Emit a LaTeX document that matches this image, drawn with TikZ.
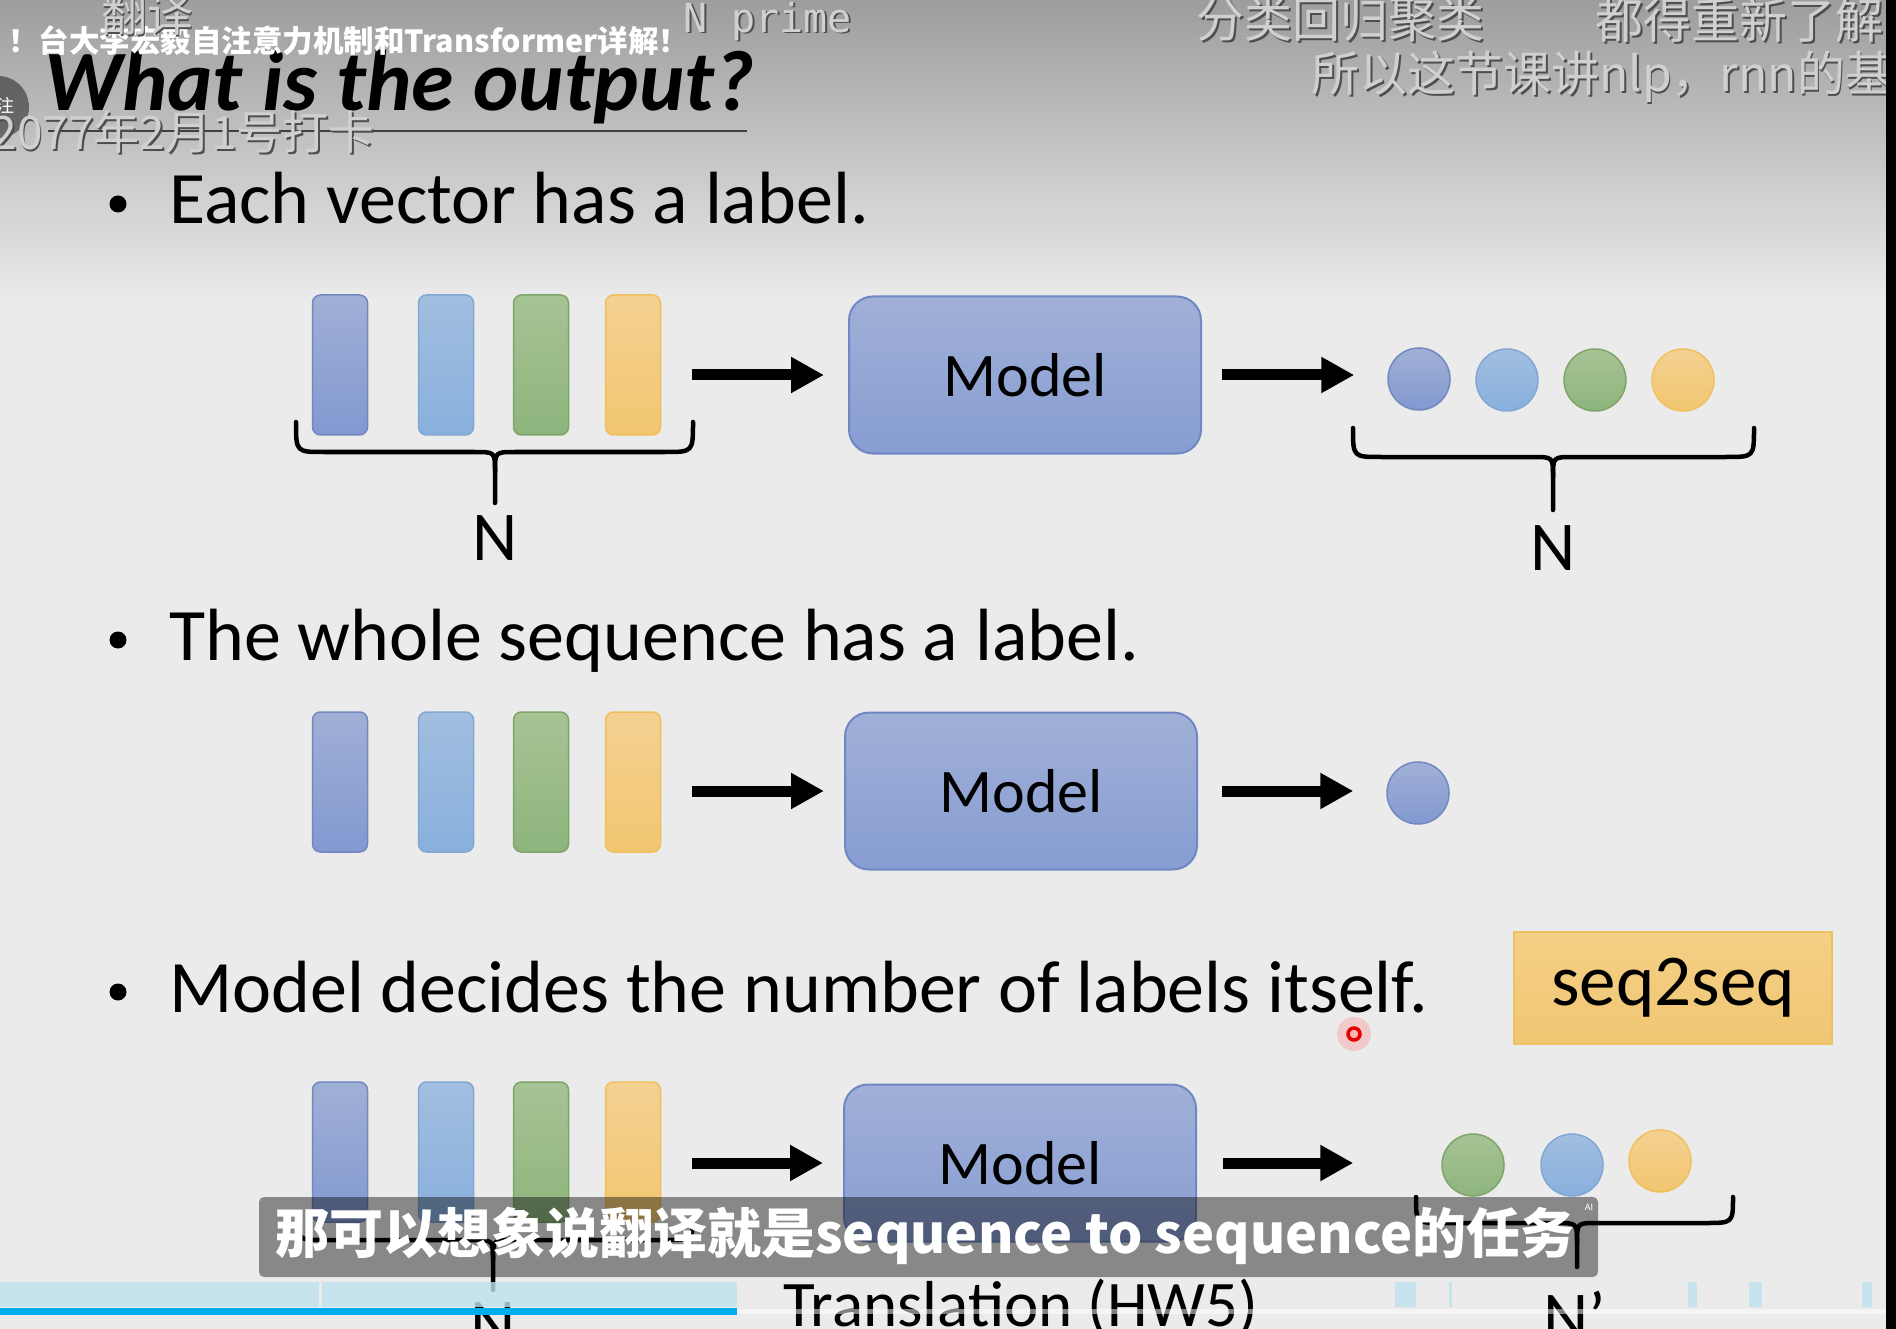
\documentclass[tikz,border=0pt]{standalone}
\usepackage{fontspec}
\setmainfont{Carlito}
\newfontfamily\cjk{Noto Sans CJK SC}
\newfontfamily\monof{DejaVu Sans Mono}
\usetikzlibrary{arrows.meta,calc}
\newcommand\fsz[1]{\fontsize{#1}{#1}\selectfont}
\definecolor{bgc}{HTML}{EBEBEB}
\definecolor{topg}{HTML}{9D9D9D}
\definecolor{cAt}{HTML}{A0B0D6}\definecolor{cAb}{HTML}{8299D0}\definecolor{cAd}{HTML}{7288BE}
\definecolor{cBt}{HTML}{A2BEE0}\definecolor{cBb}{HTML}{88B0DD}\definecolor{cBd}{HTML}{82A7D3}
\definecolor{cCt}{HTML}{A6C394}\definecolor{cCb}{HTML}{8EB57D}\definecolor{cCd}{HTML}{7FA56B}
\definecolor{cDt}{HTML}{F4D192}\definecolor{cDb}{HTML}{F2C670}\definecolor{cDd}{HTML}{EFC05C}
\definecolor{mdt}{HTML}{A0B0D7}\definecolor{mdb}{HTML}{879DD2}\definecolor{mdd}{HTML}{6F88C3}
\definecolor{sqt}{HTML}{F4CF85}\definecolor{sqb}{HTML}{F1C673}\definecolor{sqd}{HTML}{EDC262}
\definecolor{hm}{HTML}{BFE2EE}
\definecolor{prog}{HTML}{00AEEC}
\definecolor{dmo}{HTML}{4E4E4E}
\definecolor{dmf}{HTML}{D0D0D0}
\tikzset{
  bar/.style={rounded corners=8pt, minimum width=55pt, minimum height=140pt, line width=1.5pt, inner sep=0},
  barA/.style={bar, draw=cAd, top color=cAt, bottom color=cAb},
  barB/.style={bar, draw=cBd, top color=cBt, bottom color=cBb},
  barC/.style={bar, draw=cCd, top color=cCt, bottom color=cCb},
  barD/.style={bar, draw=cDd, top color=cDt, bottom color=cDb},
  dot/.style={circle, minimum size=62pt, inner sep=0, line width=1.5pt},
  dotA/.style={dot, draw=cAd, top color=cAt, bottom color=cAb},
  dotB/.style={dot, draw=cBd, top color=cBt, bottom color=cBb},
  dotC/.style={dot, draw=cCd, top color=cCt, bottom color=cCb},
  dotD/.style={dot, draw=cDd, top color=cDt, bottom color=cDb},
  model/.style={rounded corners=24pt, minimum width=352pt, minimum height=157pt, draw=mdd, line width=2pt, top color=mdt, bottom color=mdb, font=\fsz{62}, inner sep=0},
  arr/.style={line width=11pt, -{Triangle[length=33pt,width=34pt]}},
  brc/.style={line width=4.5pt, line cap=round, line join=round},
  lbl/.style={font=\fsz{70}, inner sep=0, anchor=base},
  bul/.style={font=\fsz{74}, anchor=base west, inner sep=0},
  bdot/.style={circle, fill=black, minimum size=17pt, inner sep=0},
  dm/.style={inner sep=0},
}
\newcommand\dmk[5]{%
  \node[dm, anchor=#3, text=dmo] (#1s) at ($(#2)+(1.8,1.8)$) {#4#5};
  \node[dm, anchor=#3, text=dmf] (#1) at (#2) {#4#5};
}
\newcommand\bracedown[6]{%
  \draw[brc] (#1,#4) .. controls (#1,#5) .. (#1+28,#5) -- (#3-20,#5) .. controls (#3,#5) .. (#3,#5+20) -- (#3,#6);
  \draw[brc] (#2,#4) .. controls (#2,#5) .. (#2-28,#5) -- (#3+20,#5) .. controls (#3,#5) .. (#3,#5+20);
}
\begin{document}
\begin{tikzpicture}[x=1pt,y=-1pt]
\useasboundingbox (0,0) rectangle (1896,1329);
\fill[bgc] (0,0) rectangle (1896,1329);
\shade[top color=topg, bottom color=bgc] (0,0) rectangle (1896,300);

% title
\node[anchor=base west, inner sep=0, font=\bfseries\itshape\fsz{86}] (title) at (44,111) {What is the output?};
\draw[line width=2.5pt, black!75] (48,131) -- (747,131);

% bullets
\node[bdot] (d1) at (118,204) {};
\node[bul] (t1) at (169,224) {Each vector has a label.};
\node[bdot] (d2) at (118,640) {};
\node[bul] (t2) at (169,660) {The whole sequence has a label.};
\node[bdot] (d3) at (118,992) {};
\node[bul] (t3) at (169,1012) {Model decides the number of labels itself.};

% row 1
\node[barA] (b11) at (340,365) {};
\node[barB] (b12) at (446,365) {};
\node[barC] (b13) at (541,365) {};
\node[barD] (b14) at (633,365) {};
\node[model] (m1) at (1025,375) {Model};
\node[dotA] (c11) at (1419,379) {};
\node[dotB] (c12) at (1507,380) {};
\node[dotC] (c13) at (1595,380) {};
\node[dotD] (c14) at (1683,380) {};
\draw[arr] (b14.east |- m1.west) ++(31,0) -- ([xshift=-24pt]m1.west);
\draw[arr] ([xshift=20pt]m1.east) -- ([xshift=-33pt]c11.west |- m1.east);
\bracedown{296}{693}{495}{422}{452}{503}
\node[lbl] (n1) at (495,560) {N};
\bracedown{1353}{1754}{1553}{428}{457}{510}
\node[lbl] (n2) at (1553,570) {N};

% row 2
\node[barA] (b21) at (340,782) {};
\node[barB] (b22) at (446,782) {};
\node[barC] (b23) at (541,782) {};
\node[barD] (b24) at (633,782) {};
\node[model] (m2) at (1021,791) {Model};
\node[dotA] (c21) at (1418,793) {};
\draw[arr] (b24.east |- m2.west) ++(31,0) -- ([xshift=-20pt]m2.west);
\draw[arr] ([xshift=24pt]m2.east) -- ([xshift=-33pt]c21.west |- m2.east);

% row 3
\node[font=\fsz{73}, minimum width=318pt, minimum height=112pt, draw=sqd, line width=1.5pt, top color=sqt, bottom color=sqb, inner sep=0] (s2s) at (1673,988) {seq2seq};
\node[barA] (b31) at (340,1152) {};
\node[barB] (b32) at (446,1152) {};
\node[barC] (b33) at (541,1152) {};
\node[barD] (b34) at (633,1152) {};
\node[model] (m3) at (1020,1163) {Model};
\node[dotC] (c31) at (1473,1165) {};
\node[dotB] (c32) at (1572,1165) {};
\node[dotD] (c33) at (1660,1161) {};
\draw[arr] (b34.east |- m3.west) ++(31,0) -- ([xshift=-20pt]m3.west);
\draw[arr] ([xshift=26pt]m3.east) -- ([xshift=-88pt]c31.west |- m3.east);
\bracedown{297}{693}{493}{1212}{1240}{1290}
\node[lbl] (n3) at (493,1347) {N};
\bracedown{1416}{1733}{1577}{1197}{1223}{1267}
\node[lbl] (n4) at (1575,1340) {N’};
\node[font=\fsz{65}, anchor=base west, inner sep=0] (tr) at (783,1326) {Translation (HW5)};

% laser pointer
\fill[red!45, opacity=0.35] (1354,1034) circle (17);
\node[circle, draw=red!90!black, line width=3.5pt, fill=red!30, minimum size=12pt, inner sep=0] (laser) at (1354,1034) {};

% subtitle overlay
\fill[black, opacity=0.42, rounded corners=5pt] (259,1197) rectangle (1598,1277);
\node[text=white, inner sep=0, font=\cjk\bfseries\fsz{54}] (sub) at (925,1236) {那可以想象说翻译就是sequence to sequence的任务};
\node[font=\fsz{10}, text=white!70, inner sep=0] (ai) at (1589,1207) {AI};

% heat map and progress bar
\fill[hm, opacity=0.8] (0,1282) rectangle (319,1307);
\fill[hm, opacity=0.8] (322,1282) rectangle (737,1307);
\fill[hm, opacity=0.8] (1395,1282) rectangle (1416,1307);
\fill[hm, opacity=0.8] (1449,1282) rectangle (1452,1307);
\fill[hm, opacity=0.8] (1688,1282) rectangle (1697,1307);
\fill[hm, opacity=0.8] (1749,1282) rectangle (1762,1307);
\fill[hm, opacity=0.8] (1862,1282) rectangle (1872,1307);
\fill[prog] (0,1308) rectangle (737,1315);
\fill[white, opacity=0.5] (737,1309) rectangle (1886,1314);

% player overlays
\fill[black, opacity=0.45] (-2,107) circle (31);
\node[font=\cjk\fsz{18}, text=white, anchor=east, inner sep=0] (follow) at (15,106) {注};
\node[font=\cjk\bfseries\fsz{30.5}, text=white, anchor=west, inner sep=0] (vt) at (8,41) {！台大李宏毅自注意力机制和Transformer详解！};

% danmaku
\dmk{dm1}{147,14}{center}{\cjk\fsz{46}}{翻译}
\dmk{dm2}{683,21}{west}{\monof\fsz{40}}{N prime}
\dmk{dm3}{375,132}{east}{\cjk\fsz{46}}{2077年2月1号打卡}
\dmk{dm4}{1196,20}{west}{\cjk\fsz{48}}{分类回归聚类}
\dmk{dm5}{1595,20}{west}{\cjk\fsz{48}}{都得重新了解}
\dmk{dm6}{1311,77}{west}{\cjk\fsz{48}}{所以这节课讲nlp，rnn的基}

\fill[black] (1886,0) rectangle (1896,1329);
\end{tikzpicture}
\end{document}
